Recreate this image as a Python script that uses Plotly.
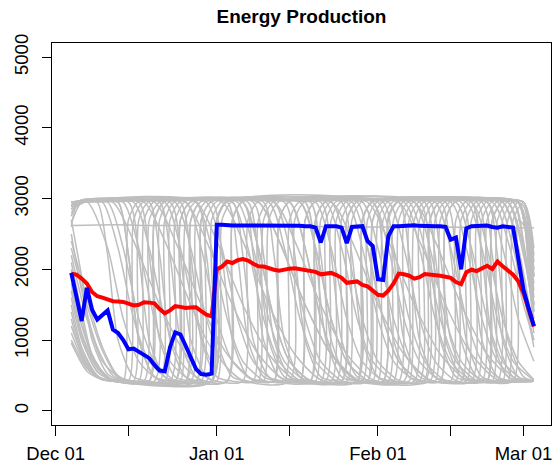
import pandas as pd
import plotly.graph_objects as go

START = pd.Timestamp("2013-12-04")
dates = pd.date_range(START, periods=90, freq="D")

red_mean = [1940, 1925, 1870, 1800, 1680, 1620, 1600, 1580, 1550, 1545,
            1540, 1515, 1490, 1500, 1535, 1530, 1520, 1440, 1380, 1420,
            1480, 1470, 1455, 1460, 1465, 1410, 1360, 1335, 2000, 2040,
            2110, 2090, 2130, 2145, 2125, 2080, 2045, 2040, 2015, 1995,
            1980, 2000, 2010, 2015, 2005, 1995, 1980, 1965, 1930, 1935,
            1950, 1920, 1880, 1810, 1820, 1830, 1780, 1760, 1700, 1640,
            1630, 1700, 1800, 1940, 1930, 1910, 1870, 1890, 1935, 1930,
            1925, 1910, 1895, 1880, 1820, 1790, 1960, 1995, 1975, 2010,
            2050, 2005, 2110, 2045, 1980, 1925, 1830, 1665, 1430, 1190]

blue_series = [1950, 1600, 1270, 1740, 1430, 1290, 1350, 1420, 1150, 1100,
               1000, 870, 880, 840, 790, 745, 650, 570, 560, 900,
               1110, 1080, 920, 750, 590, 520, 510, 525, 2630, 2630,
               2620, 2620, 2620, 2620, 2625, 2625, 2625, 2620, 2620, 2620,
               2620, 2620, 2615, 2615, 2615, 2610, 2610, 2590, 2380, 2610,
               2610, 2610, 2590, 2370, 2600, 2610, 2610, 2400, 2330, 1860,
               1850, 2470, 2610, 2610, 2615, 2625, 2625, 2615, 2610, 2610,
               2610, 2610, 2600, 2420, 2450, 2000, 2580, 2610, 2615, 2620,
               2620, 2600, 2590, 2610, 2600, 2590, 2150, 1710, 1450, 1200]

# gray runs: (day offset from Dec 04, value)
gray_01 = [(0,2880),(2,2980),(6,2990),(10,2950),(13,2300),(16,1300),(19,700),(23,430),(27,420),(28,2700),(30,2960),(38,2990),(45,2950),(47,2200),(49,1000),(52,480),(55,420),(60,420),(61,2750),(63,2970),(75,2990),(86,2950),(88,2200),(89,1600)]
gray_02 = [(0,1000),(3,600),(6,440),(9,420),(14,420),(15,2700),(17,2950),(22,2950),(26,2400),(31,1500),(36,800),(41,440),(48,420),(49,2700),(51,2960),(58,2980),(66,2950),(69,2300),(72,1300),(75,700),(79,430),(89,420)]
gray_03 = [(0,2900),(2,2970),(5,2950),(7,2200),(9,1000),(12,480),(15,420),(20,420),(21,2700),(23,2950),(33,2950),(36,2300),(39,1300),(42,700),(46,430),(55,420),(56,2700),(58,2960),(72,2950),(74,2200),(76,1000),(79,480),(82,420),(84,420),(85,2700),(87,2950),(89,2000)]
gray_04 = [(0,1600),(2,1000),(5,550),(8,430),(11,420),(12,2700),(14,2960),(24,2950),(28,2400),(33,1500),(38,800),(43,440),(52,420),(53,2700),(55,2960),(62,2980),(70,2950),(73,2300),(76,1300),(79,700),(83,430),(89,420)]
gray_05 = [(0,2600),(1,2900),(3,2980),(8,2950),(12,2400),(17,1500),(22,800),(27,440),(28,2700),(30,2970),(42,2950),(45,2300),(48,1300),(51,700),(55,430),(64,420),(65,2700),(67,2960),(78,2950),(80,2200),(82,1000),(85,480),(89,420)]
gray_06 = [(0,2000),(2,1300),(4,750),(7,460),(10,420),(17,420),(18,2700),(20,2960),(31,2950),(33,2200),(35,1000),(38,480),(41,420),(44,420),(45,2700),(47,2960),(56,2950),(59,2300),(62,1300),(65,700),(69,430),(73,420),(74,2700),(76,2960),(85,2950),(87,2300),(89,1300)]
gray_07 = [(0,2950),(4,2990),(13,2950),(15,2200),(17,1000),(20,480),(23,420),(27,420),(28,2700),(30,2960),(50,2950),(54,2400),(59,1500),(64,800),(69,440),(75,420),(76,2700),(78,2960),(86,2950),(88,2000),(89,1500)]
gray_08 = [(0,1300),(2,800),(5,480),(8,420),(22,420),(23,2700),(25,2960),(36,2950),(40,2400),(45,1500),(50,800),(55,440),(58,420),(59,2700),(61,2960),(68,2950),(70,2200),(72,1000),(75,480),(78,420),(80,420),(81,2700),(83,2960),(86,2940),(88,2300),(89,1900)]
gray_09 = [(0,2850),(2,2960),(7,2950),(10,2300),(13,1300),(16,700),(20,430),(25,420),(26,2700),(28,2960),(34,2950),(36,2200),(38,1000),(41,480),(44,420),(50,420),(51,2700),(53,2960),(63,2950),(67,2400),(72,1500),(77,800),(82,440),(89,420)]
gray_10 = [(0,2200),(3,1300),(6,700),(10,430),(13,420),(27,420),(28,2700),(30,2960),(40,2970),(47,2950),(50,2300),(53,1300),(56,700),(60,430),(66,420),(67,2700),(69,2960),(80,2950),(83,2300),(86,1300),(89,700)]
gray_11 = [(0,2620),(8,2630),(16,2620),(27,2620),(40,2610),(55,2600),(70,2600),(80,2590),(89,2590)]
gray_12 = [(0,2900),(3,2990),(16,2950),(20,2400),(25,1500),(30,800),(35,440),(39,420),(40,2700),(42,2960),(52,2950),(54,2200),(56,1000),(59,480),(62,420),(69,420),(70,2700),(72,2960),(85,2950),(87,2400),(89,1200)]
gray_13 = [(0,1800),(2,1100),(5,600),(8,440),(12,420),(18,420),(19,2700),(21,2960),(26,2950),(29,2300),(32,1300),(35,700),(39,430),(46,420),(47,2700),(49,2960),(60,2950),(62,2200),(64,1000),(67,480),(70,420),(77,420),(78,2700),(80,2960),(86,2950),(88,2100),(89,1500)]
gray_14 = [(0,2950),(5,2980),(9,2950),(11,2200),(13,1000),(16,480),(19,420),(24,420),(25,2700),(27,2960),(38,2950),(41,2300),(44,1300),(47,700),(51,430),(57,420),(58,2700),(60,2960),(76,2950),(79,2300),(82,1300),(85,700),(89,430)]
gray_15 = [(0,1200),(3,650),(6,450),(9,420),(27,420),(28,2700),(30,2960),(37,2950),(39,2200),(41,1000),(44,480),(47,420),(53,420),(54,2700),(56,2960),(66,2950),(70,2400),(75,1500),(80,800),(85,440),(89,420)]
gray_16 = [(0,2750),(1,2920),(4,2980),(12,2950),(15,2300),(18,1300),(21,700),(25,430),(30,420),(31,2700),(33,2960),(48,2950),(50,2200),(52,1000),(55,480),(58,420),(62,420),(63,2700),(65,2960),(74,2950),(77,2300),(80,1300),(83,700),(87,430),(89,420)]
gray_17 = [(0,2400),(3,1600),(6,900),(9,500),(12,420),(15,420),(16,2700),(18,2960),(29,2950),(33,2400),(38,1500),(43,800),(48,440),(55,420),(56,2700),(58,2960),(71,2950),(73,2200),(75,1000),(78,480),(81,420),(83,420),(84,2700),(86,2950),(88,2300),(89,1800)]
gray_18 = [(0,2920),(3,2970),(19,2950),(21,2200),(23,1000),(26,480),(28,420),(33,420),(34,2700),(36,2960),(44,2950),(47,2300),(50,1300),(53,700),(57,430),(61,420),(62,2700),(64,2960),(81,2950),(84,2400),(87,1500),(89,1000)]
gray_19 = [(0,1500),(2,900),(5,500),(8,420),(10,420),(11,2700),(13,2960),(20,2950),(23,2300),(26,1300),(29,700),(33,430),(42,420),(43,2700),(45,2960),(57,2950),(61,2400),(66,1500),(71,800),(76,440),(80,420),(81,2700),(83,2960),(87,2950),(89,2200)]
gray_20 = [(0,2950),(6,2990),(22,2950),(25,2300),(28,1300),(31,700),(35,430),(37,420),(38,2700),(40,2960),(58,2950),(60,2200),(62,1000),(65,480),(68,420),(71,420),(72,2700),(74,2960),(86,2950),(88,2400),(89,2000)]
gray_21 = [(0,2100),(2,1400),(4,800),(7,470),(10,420),(20,420),(21,2700),(23,2960),(35,2950),(37,2200),(39,1000),(42,480),(45,420),(49,420),(50,2700),(52,2960),(61,2950),(64,2300),(67,1300),(70,700),(74,430),(79,420),(80,2700),(82,2960),(86,2950),(88,2300),(89,1700)]
gray_22 = [(0,2800),(2,2950),(10,2980),(17,2950),(19,2200),(21,1000),(24,480),(27,420),(28,2700),(30,2960),(55,2950),(57,2300),(60,1300),(63,700),(67,430),(70,420),(71,2700),(73,2960),(86,2950),(88,2500),(89,1900)]
gray_23 = [(0,1100),(3,620),(6,450),(9,420),(24,420),(25,2700),(27,2960),(41,2950),(43,2200),(45,1000),(48,480),(51,420),(56,420),(57,2700),(59,2960),(73,2950),(76,2300),(79,1300),(82,700),(86,430),(89,420)]
gray_24 = [(0,2950),(8,2970),(14,2950),(18,2400),(23,1500),(27,900),(28,2700),(30,2960),(45,2960),(53,2950),(56,2300),(59,1300),(62,700),(66,430),(68,420),(69,2700),(71,2960),(80,2950),(82,2200),(84,1000),(87,480),(89,420)]
gray_25 = [(0,1700),(2,1050),(5,560),(8,430),(16,420),(17,2700),(19,2960),(33,2950),(35,2200),(37,1000),(40,480),(43,420),(46,420),(47,2700),(49,2960),(67,2950),(69,2200),(71,1000),(74,480),(77,420),(82,420),(83,2700),(85,2960),(87,2900),(89,1400)]
gray_26 = [(0,2850),(3,2960),(6,2950),(9,2300),(12,1300),(15,700),(19,430),(21,420),(22,2700),(24,2960),(39,2950),(43,2400),(48,1500),(53,800),(58,440),(63,420),(64,2700),(66,2960),(79,2950),(81,2200),(83,1000),(86,480),(89,420)]
gray_27 = [(0,2300),(3,1500),(6,850),(9,480),(12,420),(27,420),(28,2700),(30,2960),(44,2950),(47,2300),(50,1300),(53,700),(57,430),(59,420),(60,2700),(62,2960),(69,2950),(71,2200),(73,1000),(76,480),(79,420),(85,420),(86,2700),(88,2500),(89,1900)]
gray_28 = [(0,2900),(2,2980),(11,2950),(13,2200),(15,1000),(18,480),(21,420),(30,420),(31,2700),(33,2960),(42,2950),(45,2300),(48,1300),(51,700),(55,430),(60,420),(61,2700),(63,2960),(77,2950),(80,2300),(83,1300),(86,700),(89,440)]
gray_29 = [(0,960),(3,560),(6,440),(9,420),(12,420),(13,2700),(15,2960),(27,2950),(29,2200),(31,1000),(34,480),(37,420),(41,420),(42,2700),(44,2960),(64,2950),(67,2300),(70,1300),(73,700),(77,430),(83,420),(89,420)]
gray_30 = [(0,2950),(7,2960),(18,2950),(21,2300),(24,1300),(27,700),(28,2700),(30,2960),(36,2950),(40,2400),(45,1500),(50,800),(55,440),(57,420),(58,2700),(60,2960),(75,2950),(77,2200),(79,1000),(82,480),(85,420),(89,420)]
gray_31 = [(0,2500),(2,1700),(5,900),(8,500),(11,420),(19,420),(20,2700),(22,2960),(30,2950),(32,2200),(34,1000),(37,480),(40,420),(44,420),(45,2700),(47,2960),(54,2950),(57,2300),(60,1300),(63,700),(67,430),(71,420),(72,2700),(74,2960),(84,2950),(87,2300),(89,1500)]
gray_32 = [(0,2900),(4,2980),(24,2950),(26,2200),(28,1000),(31,480),(34,420),(36,420),(37,2700),(39,2960),(50,2950),(53,2300),(56,1300),(59,700),(63,430),(65,420),(66,2700),(68,2960),(83,2950),(86,2300),(88,1300),(89,900)]
gray_33 = [(0,2700),(2,1900),(4,1000),(7,520),(10,420),(13,420),(14,2700),(16,2960),(21,2950),(23,2200),(25,1000),(28,480),(31,420),(35,420),(36,2700),(38,2960),(46,2950),(48,2200),(50,1000),(53,480),(56,420),(68,420),(69,2700),(71,2960),(77,2950),(79,2200),(81,1000),(84,480),(87,420),(89,420)]
gray_34 = [(0,2950),(3,2960),(7,2300),(10,1300),(13,700),(17,430),(23,420),(24,2700),(26,2960),(32,2950),(35,2300),(38,1300),(41,700),(45,430),(51,420),(52,2700),(54,2960),(59,2950),(62,2300),(65,1300),(68,700),(72,430),(76,420),(77,2700),(79,2960),(84,2950),(87,2200),(89,1400)]
gray_35 = [(0,1400),(2,850),(5,490),(8,420),(15,420),(16,2700),(18,2960),(24,2950),(27,2300),(30,1300),(33,700),(37,430),(39,420),(40,2700),(42,2960),(49,2950),(52,2300),(55,1300),(58,700),(62,430),(67,420),(68,2700),(70,2960),(82,2950),(85,2300),(88,1300),(89,1000)]
gray_36 = [(0,2650),(2,2950),(5,2970),(9,2950),(11,2200),(13,1000),(16,480),(19,420),(22,420),(23,2700),(25,2960),(31,2950),(34,2300),(37,1300),(40,700),(44,430),(47,420),(48,2700),(50,2960),(58,2950),(61,2300),(64,1300),(67,700),(71,430),(74,420),(75,2700),(77,2960),(83,2950),(86,2300),(89,1100)]
gray_37 = [(0,1900),(2,1200),(5,640),(8,440),(11,420),(26,420),(27,2700),(29,2960),(33,2950),(36,2300),(39,1300),(42,700),(46,430),(52,420),(53,2700),(55,2960),(63,2950),(65,2200),(67,1000),(70,480),(73,420),(78,420),(79,2700),(81,2960),(87,2950),(89,2300)]
gray_38 = [(0,2950),(10,2960),(15,2950),(17,2200),(19,1000),(22,480),(25,420),(28,420),(29,2700),(31,2960),(39,2950),(42,2300),(45,1300),(48,700),(52,430),(55,420),(56,2700),(58,2960),(65,2950),(68,2300),(71,1300),(74,700),(78,430),(81,420),(82,2700),(84,2960),(87,2950),(89,2100)]

gray_all = [gray_01, gray_02, gray_03, gray_04, gray_05, gray_06, gray_07, gray_08,
            gray_09, gray_10, gray_11, gray_12, gray_13, gray_14, gray_15, gray_16,
            gray_17, gray_18, gray_19, gray_20, gray_21, gray_22, gray_23, gray_24,
            gray_25, gray_26, gray_27, gray_28, gray_29, gray_30, gray_31, gray_32,
            gray_33, gray_34, gray_35, gray_36, gray_37, gray_38]

tick_dates = ["2013-12-01", "2013-12-15", "2014-01-01", "2014-01-15",
              "2014-02-01", "2014-02-15", "2014-03-01"]
tick_text = ["Dec 01", "", "Jan 01", "", "Feb 01", "", "Mar 01"]
y_ticks = [0, 1000, 2000, 3000, 4000, 5000]

FONT = "Liberation Sans, Arial, sans-serif"

fig = go.Figure()
for g in gray_all:
    xs = [START + pd.Timedelta(days=d) for d, _ in g]
    ys = [v for _, v in g]
    fig.add_trace(go.Scatter(x=xs, y=ys, mode="lines",
                             line=dict(color="#BEBEBE", width=1.5, shape="spline", smoothing=0.7),
                             hoverinfo="skip", showlegend=False))

fig.add_trace(go.Scatter(x=dates, y=red_mean, mode="lines",
                         line=dict(color="#FF0000", width=4), showlegend=False))
fig.add_trace(go.Scatter(x=dates, y=blue_series, mode="lines",
                         line=dict(color="#0000FF", width=4), showlegend=False))

fig.update_layout(
    width=555, height=465,
    template="none",
    paper_bgcolor="white", plot_bgcolor="white",
    margin=dict(l=52, r=4, t=43, b=40, pad=0),
    font=dict(family=FONT, color="black", size=18),
    showlegend=False,
    title=dict(text="<b>Energy Production</b>", x=0.5, xref="paper", xanchor="center",
               y=1 - 16 / 465, yref="container", yanchor="middle",
               font=dict(family=FONT, size=19, color="black")),
)
fig.update_xaxes(
    type="date", range=["2013-11-30 07:00", "2014-03-06 07:00"],
    tickvals=tick_dates, ticktext=tick_text,
    ticks="outside", ticklen=10, tickwidth=1, tickcolor="black",
    showline=True, mirror=True, linecolor="black", linewidth=1,
    showgrid=False, zeroline=False, automargin=False,
    ticklabelstandoff=2,
    tickfont=dict(family=FONT, size=18.5, color="black"),
)
fig.update_yaxes(
    range=[-200, 5200], tickvals=y_ticks, ticktext=[str(v) for v in y_ticks],
    tickangle=-90,
    ticks="outside", ticklen=9, tickwidth=1, tickcolor="black",
    showline=True, mirror=True, linecolor="black", linewidth=1,
    showgrid=False, zeroline=False, automargin=False,
    ticklabelstandoff=7,
    tickfont=dict(family=FONT, size=18.5, color="black"),
)

fig.write_html("out.html",
               config={"displayModeBar": False, "staticPlot": True},
               post_script="document.body.style.margin='0';document.body.style.overflow='hidden';")
